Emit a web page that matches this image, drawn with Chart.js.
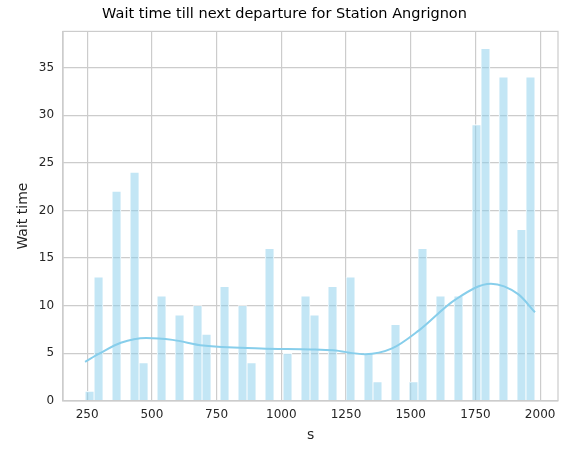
<!DOCTYPE html>
<html>
<head>
<meta charset="utf-8">
<script src="https://cdn.jsdelivr.net/npm/chart.js@4"></script>
<style>
  body { margin: 0; background: #fff; }
  #wrap { width: 566px; height: 457px; }
</style>
</head>
<body>
<div id="wrap"><canvas id="chart"></canvas></div>
<script>
// histogram bins (seaborn-style, 50 bins from ~242 to ~1980)
const binStart = 242;
const binWidth = 34.76;
const binCounts = {
    0: 1, 1: 13, 3: 22, 5: 24, 6: 4, 8: 11, 10: 9, 12: 10, 13: 7, 15: 12,
    17: 10, 18: 4, 20: 16, 22: 5, 24: 11, 25: 9, 27: 12, 29: 13, 31: 5, 32: 2,
    34: 8, 36: 2, 37: 16, 39: 11, 41: 11, 43: 29, 44: 37, 46: 34, 48: 18, 49: 34
};
const kdeX = [242, 300, 380, 478, 580, 698, 922, 1115, 1200, 1324, 1428, 1532, 1671, 1810, 1915, 1980];
const kdeY = [4.1, 5.0, 6.1, 6.6, 6.4, 5.8, 5.5, 5.4, 5.3, 4.9, 5.5, 7.4, 10.6, 12.3, 11.2, 9.3];
const xTicks = [250, 500, 750, 1000, 1250, 1500, 1750, 2000];
const yTicks = [0, 5, 10, 15, 20, 25, 30, 35];

let bars = [];
for (let i = 0; i < 50; i++) {
    bars.push({ x: binStart + binWidth * (i + 0.5), y: binCounts[i] || 0 });
}
const kde = kdeX.map((x, i) => ({ x: x, y: kdeY[i] }));

Chart.defaults.font.family = 'DejaVu Sans';
Chart.defaults.color = '#262626';

new Chart(document.getElementById('chart').getContext('2d'), {
    type: 'bar',
    data: {
        datasets: [
            {
                type: 'line',
                data: kde,
                borderColor: 'rgb(135,206,235)',
                borderWidth: 2,
                pointRadius: 0,
                cubicInterpolationMode: 'monotone',
                order: 0
            },
            {
                data: bars,
                backgroundColor: 'rgba(135,206,235,0.5)',
                borderColor: '#ffffff',
                borderWidth: 0.8,
                barPercentage: 1,
                categoryPercentage: 1,
                order: 1
            }
        ]
    },
    options: {
        responsive: true,
        maintainAspectRatio: false,
        animation: false,
        layout: { padding: { top: 4, right: 8, left: 11, bottom: 9 } },
        plugins: {
            legend: { display: false },
            tooltip: { enabled: false },
            title: {
                display: true,
                text: 'Wait time till next departure for Station Angrignon',
                font: { size: 14.5, weight: 'normal' },
                color: '#000',
                padding: { top: 2, bottom: 8 }
            }
        },
        scales: {
            x: {
                type: 'linear',
                min: 157,
                max: 2069,
                offset: false,
                afterBuildTicks: axis => { axis.ticks = xTicks.map(v => ({ value: v })); },
                grid: { offset: false, color: '#cccccc', lineWidth: 1.2, tickLength: 4, tickColor: '#fff' },
                border: { color: '#cccccc', width: 1.2 },
                ticks: { font: { size: 12 }, maxRotation: 0, callback: v => String(v) },
                title: { display: true, text: 's', font: { size: 14 }, padding: { top: 2 } }
            },
            y: {
                min: 0,
                max: 38.8,
                afterBuildTicks: axis => { axis.ticks = yTicks.map(v => ({ value: v })); },
                grid: { color: '#cccccc', lineWidth: 1.2, tickLength: 6, tickColor: '#fff' },
                border: { color: '#cccccc', width: 1.2 },
                ticks: { font: { size: 12 } },
                title: { display: true, text: 'Wait time', font: { size: 14 } }
            }
        }
    },
    plugins: [{
        id: 'frame',
        afterDraw(chart) {
            const a = chart.chartArea, c = chart.ctx;
            c.save();
            c.strokeStyle = '#cccccc';
            c.lineWidth = 1.2;
            c.strokeRect(a.left, a.top, a.right - a.left, a.bottom - a.top);
            c.restore();
        }
    }]
});
</script>
</body>
</html>
